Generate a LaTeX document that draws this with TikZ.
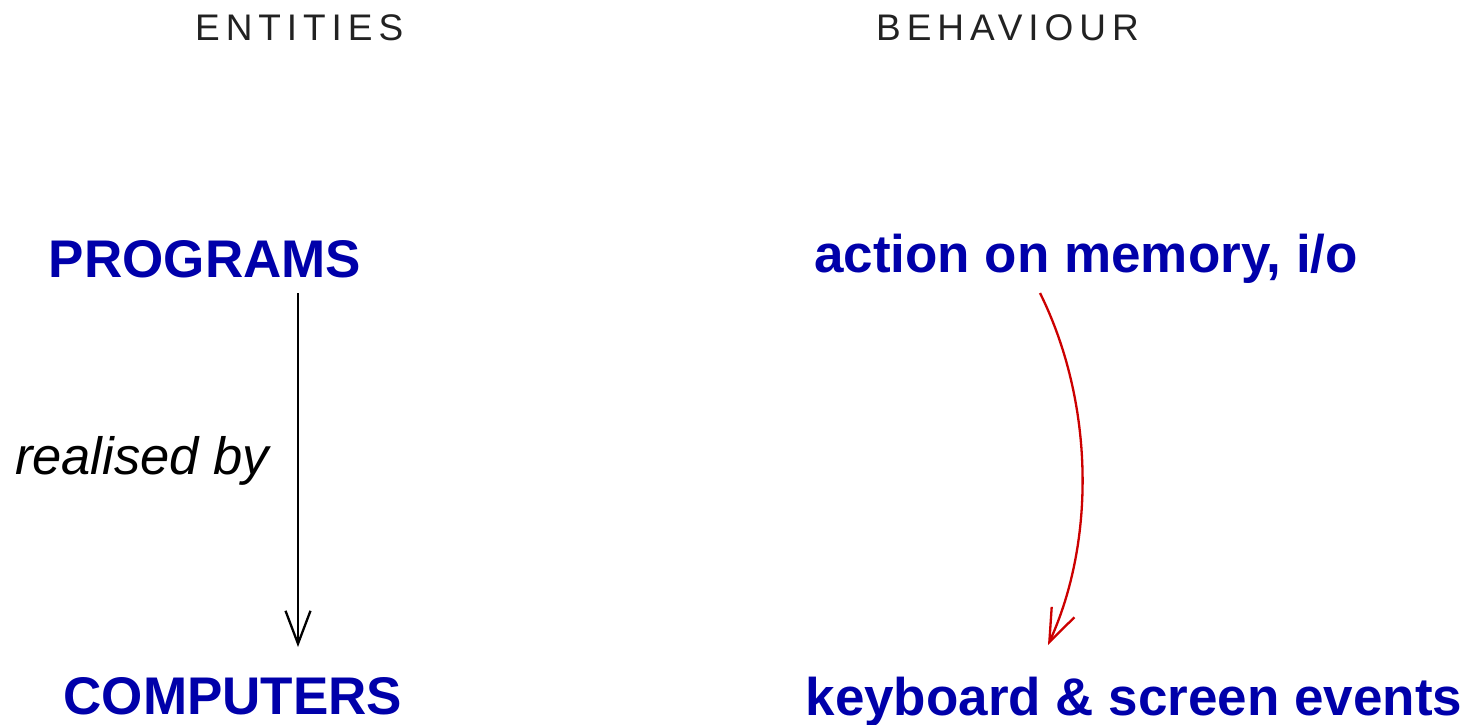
\documentclass[tikz,border=0pt]{standalone}
\usepackage{fontspec}
\setmainfont{Liberation Sans}
\usetikzlibrary{arrows.meta}
\definecolor{txtblue}{HTML}{0000AA}
\definecolor{arrred}{HTML}{CC0000}
\definecolor{ttlgray}{HTML}{222222}
\begin{document}
\begin{tikzpicture}[x=1pt,y=-1pt,
  title/.style={inner sep=0pt,anchor=base west,text=ttlgray,font=\fontsize{37}{40}\selectfont\addfontfeature{LetterSpace=16}},
  term/.style={inner sep=0pt,anchor=base,text=txtblue,font=\fontsize{53}{60}\selectfont\bfseries},
  lbl/.style={inner sep=0pt,anchor=base,font=\fontsize{52.5}{60}\selectfont\itshape},
  conn/.style={line width=2.3pt,-{Straight Barb[length=33pt,width=25pt,line width=2.3pt]}}]
\useasboundingbox (0,0) rectangle (1467,725);
\node[title] (ent) at (195,41) {ENTITIES};
\node[title] (beh) at (876,41) {BEHAVIOUR};
\node[term] (prog) at (205,277) {PROGRAMS};
\node[term] (comp) at (233,714) {COMPUTERS};
\node[term] (act) at (1086,272) {action on memory, i/o};
\node[term] (key) at (1134,715) {keyboard \& screen events};
\node[lbl] (real) at (142,474) {realised by};
\coordinate (p1) at (298,293);
\coordinate (p2) at (298,647);
\coordinate (q1) at (1040,293);
\coordinate (q2) at (1048,645);
\draw[conn,black] (p1) -- (p2);
\draw[conn,arrred] (q1) .. controls (1094,402) and (1096,540) .. (q2);
\end{tikzpicture}
\end{document}
